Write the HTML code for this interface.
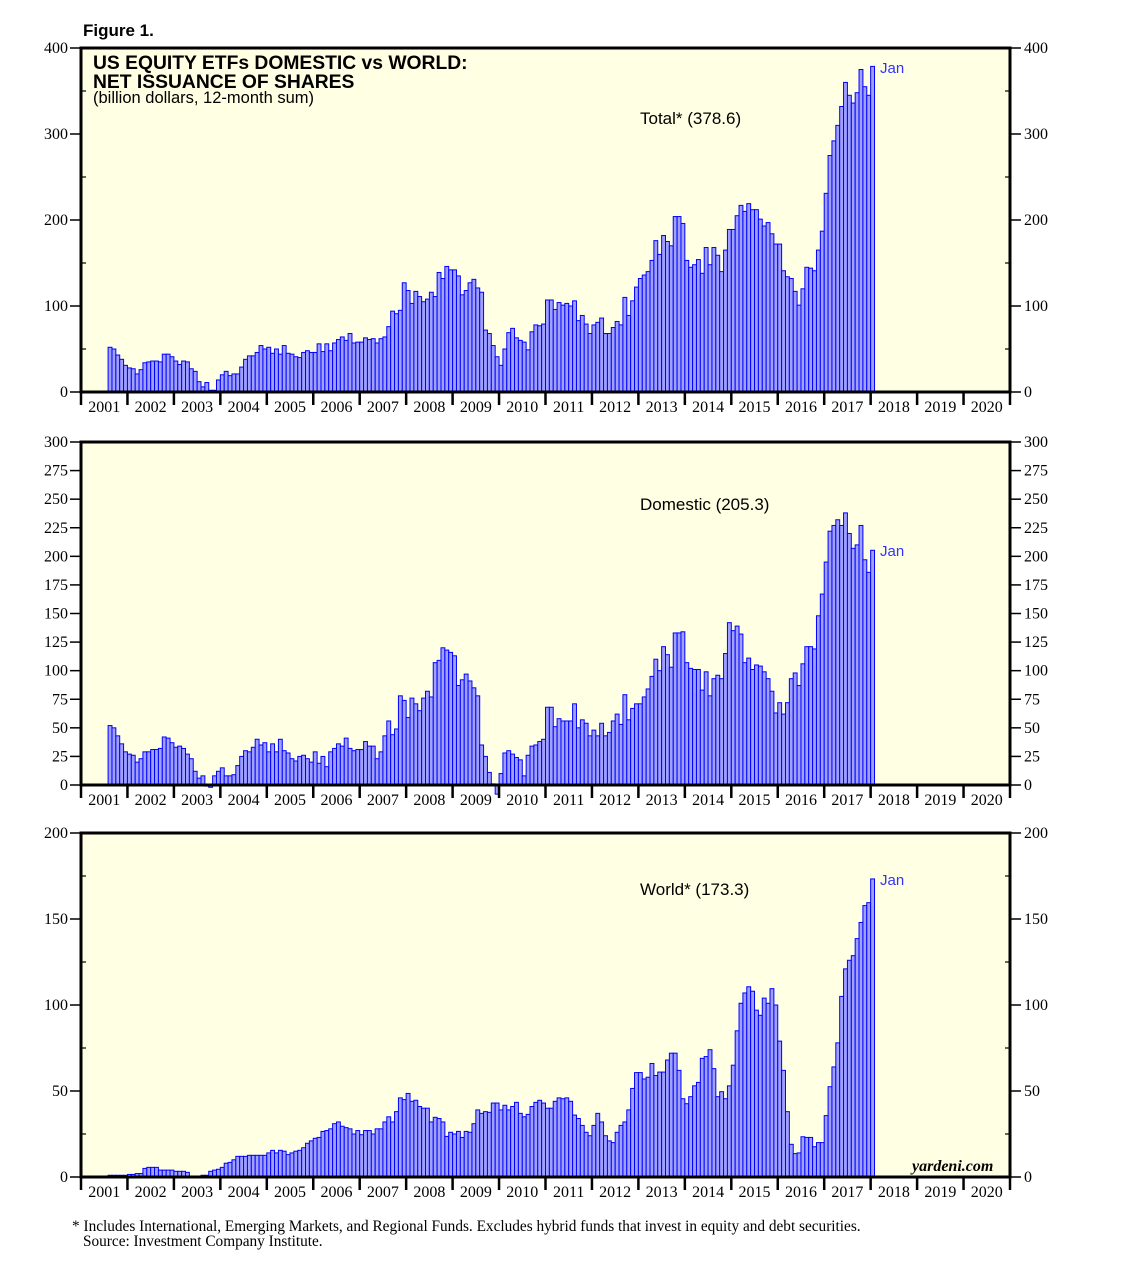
<!DOCTYPE html>
<html><head><meta charset="utf-8"><style>
html,body{margin:0;padding:0;background:#fff;}
svg{display:block;}
</style></head><body>
<svg id="chart" width="1138" height="1264" viewBox="0 0 1138 1264" xmlns="http://www.w3.org/2000/svg">
<text x="83" y="36" font-family="Liberation Sans, sans-serif" font-size="17" font-weight="bold">Figure 1.</text>
<text x="72" y="1231" font-family="Liberation Serif, serif" font-size="15.3">* Includes International, Emerging Markets, and Regional Funds. Excludes hybrid funds that invest in equity and debt securities.</text>
<text x="83" y="1246" font-family="Liberation Serif, serif" font-size="15.3">Source: Investment Company Institute.</text>
</svg>
<script>
const startYear = 2001, startMonth = 7;
const totalValues = [52,50,43,38,31,
28,27,21,26,34,35,36,36,35,44,44,41,
36,32,36,35,27,24,12,6,11,2,2,14,
20,24,19,21,21,29,38,42,42,46,54,50,
52,45,50,44,54,45,44,41,40,46,48,46,
46,56,47,56,48,57,61,64,60,68,57,58,
58,63,61,62,57,62,64,76,94,91,95,127,
118,103,117,111,105,108,116,111,139,132,146,142,
142,135,113,118,127,131,121,116,72,68,54,41,
31,50,69,74,63,60,58,49,70,78,77,79,
107,107,96,104,101,103,100,106,83,89,79,68,
78,81,86,68,68,75,82,78,110,89,106,122,
132,136,140,153,176,160,182,175,170,204,204,196,
153,145,148,154,138,168,148,168,159,140,165,189,
189,205,217,210,219,212,212,201,193,197,184,172,
172,141,134,132,117,101,120,145,144,141,165,187,
231,275,292,310,332,360,345,336,348,375,355,345,
378.6];
const domesticValues = [52,50,43,36,29,
27,26,20,23,29,29,31,31,32,42,41,37,
33,34,32,27,23,12,6,8,-1,-2,8,12,
15,8,8,9,17,25,30,29,33,40,35,37,
29,36,29,40,30,28,23,21,25,26,23,20,
29,19,25,16,29,32,36,34,41,32,30,31,
31,38,34,34,23,29,43,56,44,49,78,74,
59,76,71,65,76,82,77,107,109,120,118,116,
113,87,92,97,91,85,78,35,25,11,1,-8,
10,28,30,27,24,22,8,26,34,35,38,40,
68,68,51,58,56,56,56,71,50,57,54,43,
48,43,54,43,46,56,62,53,79,57,67,71,
71,77,84,95,110,100,121,114,103,133,133,134,
107,102,101,101,83,99,78,93,96,93,115,142,
135,139,132,107,111,101,105,104,99,93,82,63,
72,62,72,93,98,87,106,121,121,119,148,167,
195,222,227,232,227,238,220,207,210,227,197,186,
205.3];
const worldValues = [1,1,1,1,1,
1.5,1.5,2,2,5,5.6,5.6,5.6,4,4,4,4,
3.3,3.3,3.3,2.7,0.4,0.4,0.4,1,1,3.3,4,4.5,
5.6,8,8.5,10,12,12,12,12.6,12.6,12.6,12.6,12.6,
14,15.5,14,15.5,15,13,14,15,15.5,17,19.6,21,
22.5,23,26.5,27,28,31,32,29.5,28.7,28,25,27,
24.6,27,27,25,28,28,32,35,32,38,46,45,
48.6,44,44.6,41,40,40,32,34.7,34,32,23.6,26,
25,26.5,23,26.5,26,31,39,37,38,37.6,43,43,
39,41.7,39,41,43.4,37,35,36.4,41,43.4,44.6,43,
40,40,44,46,45.5,46,44,36,34,30,26,24,
30,37,32,24,21,20,26,30,32,39,51.5,60.7,
60.7,57,58,66,59,61,61,68,72,72,62,45.5,
42.6,46.7,53,55,69,70,74,63,46.7,49.6,45.5,53,
65,85,101,107,110.6,108,97,94,104,101,109.5,100,
79,62,38,19,13.6,14,23.4,23,23,17.6,20,20,
35.7,52.5,64,78,105,121,126,128.7,138.6,148,157.8,159.5,
173.3];
const yearLabels = ["2001","2002","2003","2004","2005","2006","2007","2008","2009","2010","2011","2012","2013","2014","2015","2016","2017","2018","2019","2020"];
const totalTicks = [0,100,200,300,400];
const domesticTicks = [0,25,50,75,100,125,150,175,200,225,250,275,300];
const worldTicks = [0,50,100,150,200];

const NS = "http://www.w3.org/2000/svg";
const svg = document.getElementById("chart");
const X0 = 81, X1 = 1010;
const yearW = (X1 - X0) / yearLabels.length;
function xScale(monthIndex){ return X0 + (startMonth + monthIndex) / 12 * yearW; }
function el(tag, attrs, parent){ const e=document.createElementNS(NS,tag); for(const k in attrs) e.setAttribute(k,attrs[k]); (parent||svg).appendChild(e); return e; }

function panel(key, top, bottom, ticks, minorStep, values, label, labelY, janY){
  const g = el("g",{});
  
  
  const maxV = ticks[ticks.length-1];
  const yScale = v => bottom - v / maxV * (bottom - top);
  const bg = el("rect",{x:X0,y:top,width:X1-X0,height:bottom-top,fill:"#FFFFE3"},g);
  
  
  const bw = yearW/12;
  values.forEach((v,i)=>{
    const x = xScale(i), y0 = yScale(0), y1 = yScale(v);
    const r = el("rect",{x:x.toFixed(2),y:Math.min(y0,y1).toFixed(2),width:bw.toFixed(2),height:Math.max(0.5,Math.abs(y1-y0)).toFixed(2),fill:"#A0A0FF",stroke:"#0000FF","stroke-width":"1"},g);
    
    
  });
  const fr = el("rect",{x:X0,y:top,width:X1-X0,height:bottom-top,fill:"none",stroke:"#000","stroke-width":"3"},g);
  
  
  ticks.forEach(t=>{
    const y = yScale(t);
    el("line",{x1:X0-11,x2:X0,y1:y,y2:y,stroke:"#000","stroke-width":"1.5"},g);
    el("line",{x1:X1,x2:X1+11,y1:y,y2:y,stroke:"#000","stroke-width":"1.5"},g);
    const tl = el("text",{x:X0-13,y:y+5,"text-anchor":"end","font-family":"Liberation Serif, serif","font-size":"16"},g);
    tl.textContent = t;
    
    
    const tr = el("text",{x:X1+14,y:y+5,"font-family":"Liberation Serif, serif","font-size":"16"},g);
    tr.textContent = t;
    
    
  });
  if (minorStep){
    for(let v=minorStep; v<maxV; v+=minorStep*2){
      const y=yScale(v);
      el("line",{x1:X0,x2:X0+5,y1:y,y2:y,stroke:"#000","stroke-width":"1.2"},g);
      el("line",{x1:X1-5,x2:X1,y1:y,y2:y,stroke:"#000","stroke-width":"1.2"},g);
    }
  }
  yearLabels.forEach((yl,i)=>{
    const x = X0 + i*yearW;
    el("line",{x1:x,x2:x,y1:bottom,y2:bottom+13,stroke:"#000","stroke-width":"2.5"},g);
    const t = el("text",{x:x+yearW/2,y:bottom+20,"text-anchor":"middle","font-family":"Liberation Serif, serif","font-size":"16"},g);
    t.textContent = yl;
    
    
  });
  el("line",{x1:X1,x2:X1,y1:bottom,y2:bottom+13,stroke:"#000","stroke-width":"2.5"},g);
  const lab = el("text",{x:640,y:labelY,"font-family":"Liberation Sans, sans-serif","font-size":"17"},g);
  lab.textContent = label;
  
  
  const jan = el("text",{x:880,y:janY,"font-family":"Liberation Sans, sans-serif","font-size":"15",fill:"#3333FF"},g);
  jan.textContent = "Jan";
  
  
}

panel("total",48,392,totalTicks,50,totalValues,"Total* (378.6)",124,73);
panel("domestic",442,785,domesticTicks,0,domesticValues,"Domestic (205.3)",510,556);
panel("world",833,1177,worldTicks,25,worldValues,"World* (173.3)",895,885);

const t1 = el("text",{x:93,y:69,"font-family":"Liberation Sans, sans-serif","font-size":"19.3","font-weight":"bold"});
t1.textContent = "US EQUITY ETFs DOMESTIC vs WORLD:";


const t2 = el("text",{x:93,y:88,"font-family":"Liberation Sans, sans-serif","font-size":"19.3","font-weight":"bold"});
t2.textContent = "NET ISSUANCE OF SHARES";


const t3 = el("text",{x:93,y:103,"font-family":"Liberation Sans, sans-serif","font-size":"16.5"});
t3.textContent = "(billion dollars, 12-month sum)";


const yd = el("text",{x:912,y:1171,"font-family":"Liberation Serif, serif","font-size":"16","font-style":"italic","font-weight":"bold"});
yd.textContent = "yardeni.com";


</script>
</body></html>
